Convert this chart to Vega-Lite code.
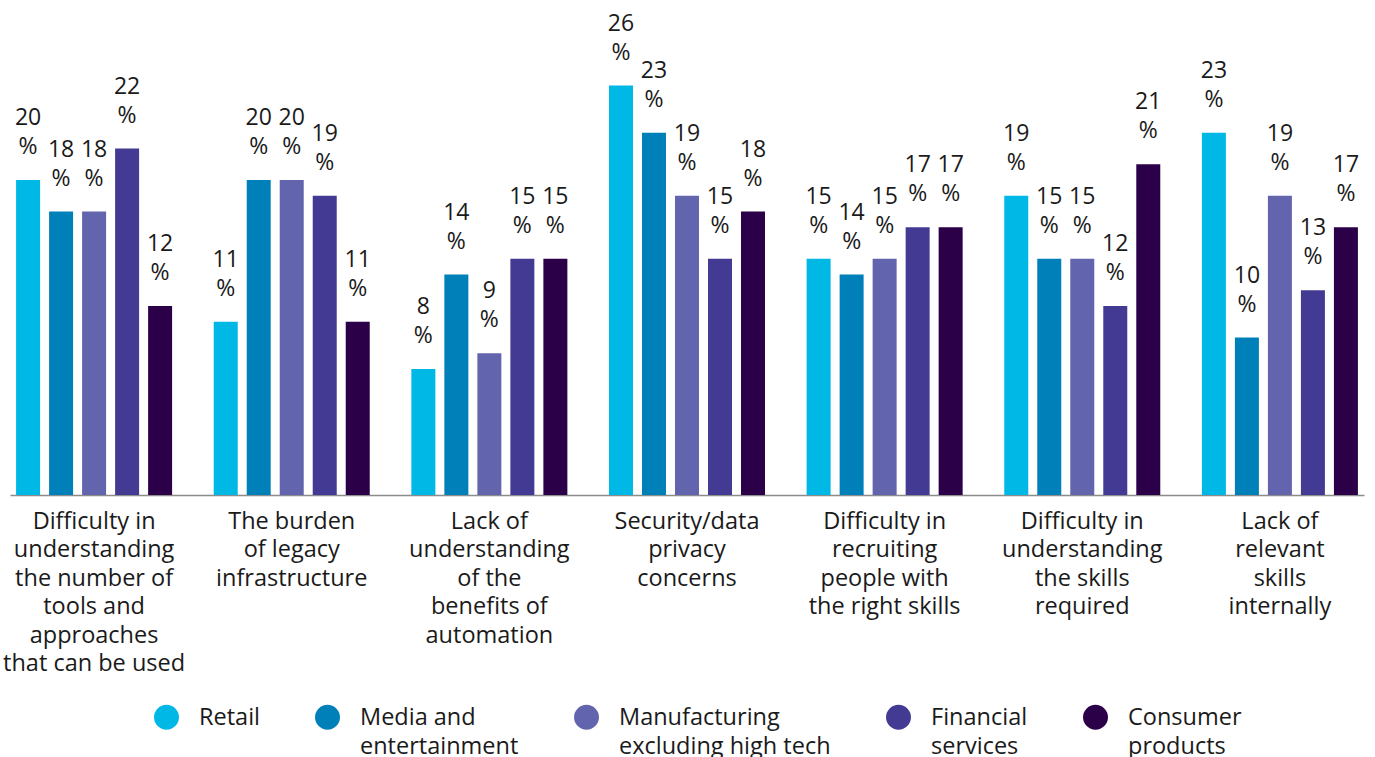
{
  "$schema": "https://vega.github.io/schema/vega-lite/v6.json",
  "width": 1354,
  "height": 472.5,
  "autosize": {"type": "none"},
  "padding": {"left": 10, "top": 22.5, "right": 11, "bottom": 262},
  "background": "white",
  "config": {
    "view": {"stroke": null},
    "font": "Open Sans"
  },
  "data": {
    "values": [
      {"category": "Difficulty in|understanding|the number of|tools and|approaches|that can be used", "sector": "Retail", "value": 20},
      {"category": "Difficulty in|understanding|the number of|tools and|approaches|that can be used", "sector": "Media and|entertainment", "value": 18},
      {"category": "Difficulty in|understanding|the number of|tools and|approaches|that can be used", "sector": "Manufacturing|excluding high tech", "value": 18},
      {"category": "Difficulty in|understanding|the number of|tools and|approaches|that can be used", "sector": "Financial|services", "value": 22},
      {"category": "Difficulty in|understanding|the number of|tools and|approaches|that can be used", "sector": "Consumer|products", "value": 12},
      {"category": "The burden|of legacy|infrastructure", "sector": "Retail", "value": 11},
      {"category": "The burden|of legacy|infrastructure", "sector": "Media and|entertainment", "value": 20},
      {"category": "The burden|of legacy|infrastructure", "sector": "Manufacturing|excluding high tech", "value": 20},
      {"category": "The burden|of legacy|infrastructure", "sector": "Financial|services", "value": 19},
      {"category": "The burden|of legacy|infrastructure", "sector": "Consumer|products", "value": 11},
      {"category": "Lack of|understanding|of the|benefits of|automation", "sector": "Retail", "value": 8},
      {"category": "Lack of|understanding|of the|benefits of|automation", "sector": "Media and|entertainment", "value": 14},
      {"category": "Lack of|understanding|of the|benefits of|automation", "sector": "Manufacturing|excluding high tech", "value": 9},
      {"category": "Lack of|understanding|of the|benefits of|automation", "sector": "Financial|services", "value": 15},
      {"category": "Lack of|understanding|of the|benefits of|automation", "sector": "Consumer|products", "value": 15},
      {"category": "Security/data|privacy|concerns", "sector": "Retail", "value": 26},
      {"category": "Security/data|privacy|concerns", "sector": "Media and|entertainment", "value": 23},
      {"category": "Security/data|privacy|concerns", "sector": "Manufacturing|excluding high tech", "value": 19},
      {"category": "Security/data|privacy|concerns", "sector": "Financial|services", "value": 15},
      {"category": "Security/data|privacy|concerns", "sector": "Consumer|products", "value": 18},
      {"category": "Difficulty in|recruiting|people with|the right skills", "sector": "Retail", "value": 15},
      {"category": "Difficulty in|recruiting|people with|the right skills", "sector": "Media and|entertainment", "value": 14},
      {"category": "Difficulty in|recruiting|people with|the right skills", "sector": "Manufacturing|excluding high tech", "value": 15},
      {"category": "Difficulty in|recruiting|people with|the right skills", "sector": "Financial|services", "value": 17},
      {"category": "Difficulty in|recruiting|people with|the right skills", "sector": "Consumer|products", "value": 17},
      {"category": "Difficulty in|understanding|the skills|required", "sector": "Retail", "value": 19},
      {"category": "Difficulty in|understanding|the skills|required", "sector": "Media and|entertainment", "value": 15},
      {"category": "Difficulty in|understanding|the skills|required", "sector": "Manufacturing|excluding high tech", "value": 15},
      {"category": "Difficulty in|understanding|the skills|required", "sector": "Financial|services", "value": 12},
      {"category": "Difficulty in|understanding|the skills|required", "sector": "Consumer|products", "value": 21},
      {"category": "Lack of|relevant|skills|internally", "sector": "Retail", "value": 23},
      {"category": "Lack of|relevant|skills|internally", "sector": "Media and|entertainment", "value": 10},
      {"category": "Lack of|relevant|skills|internally", "sector": "Manufacturing|excluding high tech", "value": 19},
      {"category": "Lack of|relevant|skills|internally", "sector": "Financial|services", "value": 13},
      {"category": "Lack of|relevant|skills|internally", "sector": "Consumer|products", "value": 17}
    ]
  },
  "transform": [{"calculate": "datum.value + '|%'", "as": "label"}],
  "encoding": {
    "x": {
      "field": "category",
      "type": "nominal",
      "sort": null,
      "title": null,
      "scale": {"paddingInner": 0.165, "paddingOuter": 0.008},
      "axis": {
        "labelAngle": 0,
        "ticks": false,
        "domainColor": "#8c8c8c",
        "domainWidth": 1.5,
        "labelExpr": "split(datum.value, '|')",
        "labelFontSize": 23.5,
        "labelLineHeight": 28.5,
        "labelColor": "#1a1a1a",
        "labelPadding": 14,
        "labelBaseline": "top",
        "labelLimit": 0
      }
    },
    "xOffset": {
      "field": "sector",
      "type": "nominal",
      "sort": null,
      "scale": {"paddingInner": 0.273, "paddingOuter": 0.1365}
    },
    "y": {
      "field": "value",
      "type": "quantitative",
      "scale": {"domain": [0, 30]},
      "axis": null
    }
  },
  "layer": [
    {
      "mark": {"type": "bar"},
      "encoding": {
        "color": {
          "field": "sector",
          "type": "nominal",
          "sort": null,
          "scale": {
            "domain": ["Retail", "Media and|entertainment", "Manufacturing|excluding high tech", "Financial|services", "Consumer|products"],
            "range": ["#00B8E5", "#0080B8", "#6264AE", "#433A93", "#2B0049"]
          },
          "legend": {
            "title": null,
            "orient": "none",
            "legendX": 144,
            "legendY": 682,
            "direction": "horizontal",
            "columns": 5,
            "symbolType": "circle",
            "symbolSize": 620,
            "symbolStrokeWidth": 0,
            "symbolOpacity": 1,
            "labelExpr": "datum.label == 'Retail' ? ['Retail', ' '] : split(datum.label, '|')",
            "labelFontSize": 23.5,
            "labelColor": "#1a1a1a",
            "labelOffset": 20,
            "labelLimit": 0,
            "columnPadding": 55,
            "labelBaseline": "alphabetic",
            "encode": {"labels": {"update": {"dy": {"value": 8}, "lineHeight": {"value": 28.5}}}}
          }
        }
      }
    },
    {
      "mark": {"type": "text", "baseline": "bottom", "dy": -50, "fontSize": 23, "lineBreak": "|", "lineHeight": 29, "color": "#1a1a1a"},
      "encoding": {"text": {"field": "label"}}
    }
  ]
}
